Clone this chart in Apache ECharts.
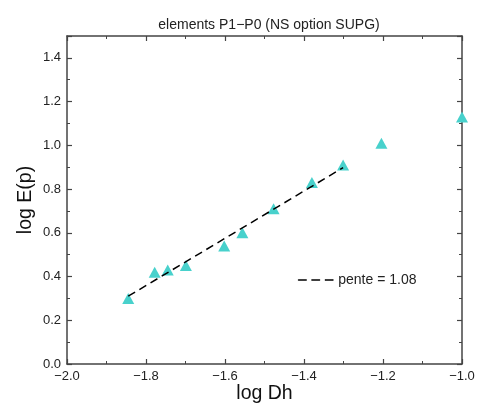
<!DOCTYPE html>
<html>
<head>
<meta charset="utf-8">
<script src="https://cdn.jsdelivr.net/npm/echarts@6/dist/echarts.min.js"></script>
<style>
    html, body {margin: 0; padding: 0; background: #fff;}
    #chart {width: 477px; height: 403px;}
</style>
</head>
<body>
<div id="chart"></div>
<script>
// 数据点 (log Dh, log E(p))
const logDh = [-1.845, -1.778, -1.745, -1.699, -1.602, -1.556, -1.477, -1.380, -1.301, -1.204, -1.0];
const logE = [0.30, 0.42, 0.43, 0.45, 0.54, 0.60, 0.71, 0.83, 0.91, 1.01, 1.13];
// 拟合直线
const fitX = [-1.845, -1.301];
const fitY = [0.31, 0.898];
const slopeLabel = 'pente = 1.08';

const fontFamily = '"Liberation Sans", Arial, sans-serif';
const axisColor = '#444';

const minus = v => v.toFixed(1).replace('-', '\u2212');

const chart = echarts.init(document.getElementById('chart'));

const baseAxis = {
    type: 'value',
    axisLine: {show: true, onZero: false, lineStyle: {color: axisColor, width: 1.5}},
    axisTick: {show: true, inside: true, length: 5, lineStyle: {color: axisColor, width: 1.2}},
    minorTick: {show: true, splitNumber: 2, length: 3, lineStyle: {color: axisColor, width: 1}},
    splitLine: {show: false},
    minorSplitLine: {show: false}
};

const option = {
    animation: false,
    backgroundColor: '#fff',
    title: {
        text: 'elements P1\u2212P0 (NS option SUPG)',
        left: 264,
        textAlign: 'center',
        top: 13,
        textStyle: {fontFamily, fontSize: 14, fontWeight: 'normal', color: '#222'}
    },
    legend: {
        left: 293,
        top: 268,
        itemWidth: 35,
        itemHeight: 2,
        itemGap: 4,
        data: [{name: slopeLabel, icon: 'path://M0,0H8V1H0Z M13,0H21V1H13Z M26,0H34V1H26Z'}],
        itemStyle: {color: '#000', borderColor: '#000', borderWidth: 0.5},
        textStyle: {fontFamily, fontSize: 14, color: '#222'}
    },
    grid: {left: 67, right: 15, top: 36, bottom: 39, outerBoundsMode: 'none'},
    xAxis: [
        {
            ...baseAxis,
            min: -2, max: -1, interval: 0.2,
            position: 'bottom',
            name: 'log Dh',
            nameLocation: 'middle',
            nameGap: 20,
            nameMoveOverlap: false,
            nameTextStyle: {fontFamily, fontSize: 19.5, color: '#111'},
            axisLabel: {formatter: minus, margin: 6, fontFamily, fontSize: 13, color: '#222'}
        },
        {
            ...baseAxis,
            min: -2, max: -1, interval: 0.2,
            position: 'top',
            axisLabel: {show: false}
        }
    ],
    yAxis: [
        {
            ...baseAxis,
            min: 0, max: 1.5, interval: 0.2,
            position: 'left',
            name: 'log E(p)',
            nameLocation: 'middle',
            nameGap: 31,
            nameMoveOverlap: false,
            nameTextStyle: {fontFamily, fontSize: 19.5, color: '#111'},
            axisLabel: {formatter: v => v.toFixed(1), showMaxLabel: false, margin: 6, fontFamily, fontSize: 13, color: '#222'}
        },
        {
            ...baseAxis,
            min: 0, max: 1.5, interval: 0.2,
            position: 'right',
            axisLabel: {show: false}
        }
    ],
    series: [
        {
            name: slopeLabel,
            type: 'line',
            data: fitX.map((x, i) => [x, fitY[i]]),
            symbol: 'none',
            lineStyle: {color: '#000', width: 1.5, type: [8, 5]},
            itemStyle: {color: '#000'},
            z: 3
        },
        {
            name: 'points',
            type: 'scatter',
            data: logDh.map((x, i) => [x, logE[i]]),
            symbol: 'triangle',
            symbolSize: [12, 11],
            clip: false,
            itemStyle: {color: '#48d1cc', opacity: 1},
            z: 2
        }
    ]
};

chart.setOption(option);
</script>
</body>
</html>
